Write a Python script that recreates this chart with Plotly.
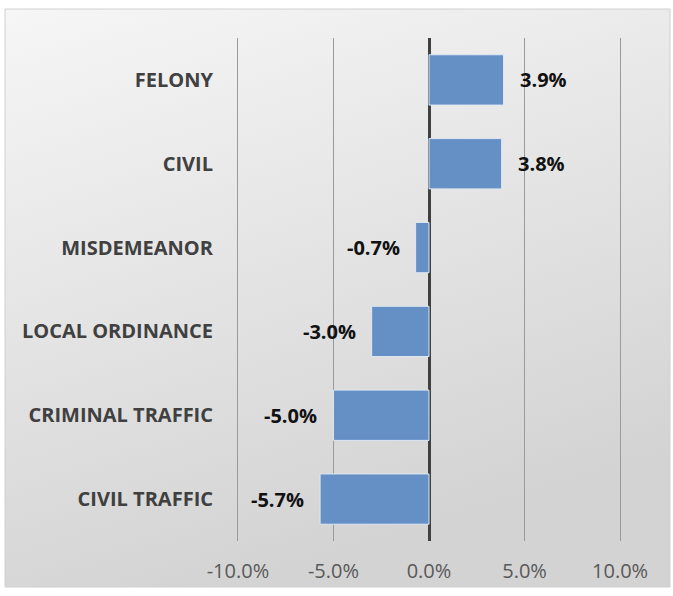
import plotly.graph_objects as go

categories = ["FELONY", "CIVIL", "MISDEMEANOR", "LOCAL ORDINANCE", "CRIMINAL TRAFFIC", "CIVIL TRAFFIC"]
values = [3.9, 3.8, -0.7, -3.0, -5.0, -5.7]
tick_vals = [-10, -5, 0, 5, 10]
tick_text = ["-10.0%", "-5.0%", "0.0%", "5.0%", "10.0%"]

W, H = 673, 596
L, R, T, B = 236, 51, 38, 55
pw, ph = W - L - R, H - T - B

def px_x(p):
    return (p - L) / pw

def px_y(p):
    return (H - B - p) / ph

bg_svg = (
    "data:image/svg+xml;utf8,"
    "<svg xmlns='http://www.w3.org/2000/svg' width='100' height='100' preserveAspectRatio='none'>"
    "<defs><linearGradient id='g' x1='0' y1='0' x2='0.35' y2='1'>"
    "<stop offset='0' stop-color='%23f6f6f6'/><stop offset='1' stop-color='%23d3d3d3'/>"
    "</linearGradient></defs><rect width='100' height='100' fill='url(%23g)'/></svg>"
)

fig = go.Figure()
fig.add_trace(go.Bar(
    y=categories, x=values, orientation="h",
    marker=dict(color="#6490c6", line=dict(color="#dfe7f2", width=1)),
    hoverinfo="skip",
))

for c, v in zip(categories, values):
    fig.add_annotation(
        x=v, y=c, xref="x", yref="y", text=f"<b>{v:.1f}%</b>", showarrow=False,
        xanchor="left" if v >= 0 else "right", xshift=14 if v >= 0 else -14,
        font=dict(family="Open Sans", size=20, color="#111111"),
    )

x0, x1 = px_x(5), px_x(670)
y0, y1 = px_y(587), px_y(9)
fig.add_layout_image(
    source=bg_svg, xref="paper", yref="paper", x=x0, y=y1, sizex=x1 - x0, sizey=y1 - y0,
    xanchor="left", yanchor="top", sizing="stretch", layer="below",
)
fig.add_shape(type="rect", xref="paper", yref="paper", x0=x0, x1=x1, y0=y0, y1=y1,
              line=dict(color="#d0d0d0", width=1), layer="below")

fig.update_layout(
    width=W, height=H,
    margin=dict(l=L, r=R, t=T, b=B, pad=0),
    paper_bgcolor="white", plot_bgcolor="rgba(0,0,0,0)",
    showlegend=False, bargap=0.4,
    xaxis=dict(
        range=[-10.1, 10.1], tickvals=tick_vals, ticktext=tick_text,
        showgrid=True, gridcolor="#9a9a9a", gridwidth=1,
        zeroline=True, zerolinecolor="#404040", zerolinewidth=3,
        showline=False, ticks="", ticklabelstandoff=16,
        tickfont=dict(family="Open Sans", size=20, color="#595959"),
        fixedrange=True,
    ),
    yaxis=dict(
        categoryorder="array", categoryarray=categories[::-1],
        showgrid=False, showline=False, ticks="", ticklabelstandoff=22,
        tickfont=dict(family="Open Sans", size=20, color="#404040", weight="bold"),
        fixedrange=True,
    ),
)

fig.write_html("out.html", config={"displayModeBar": False},
               post_script="document.body.style.margin='0';")
